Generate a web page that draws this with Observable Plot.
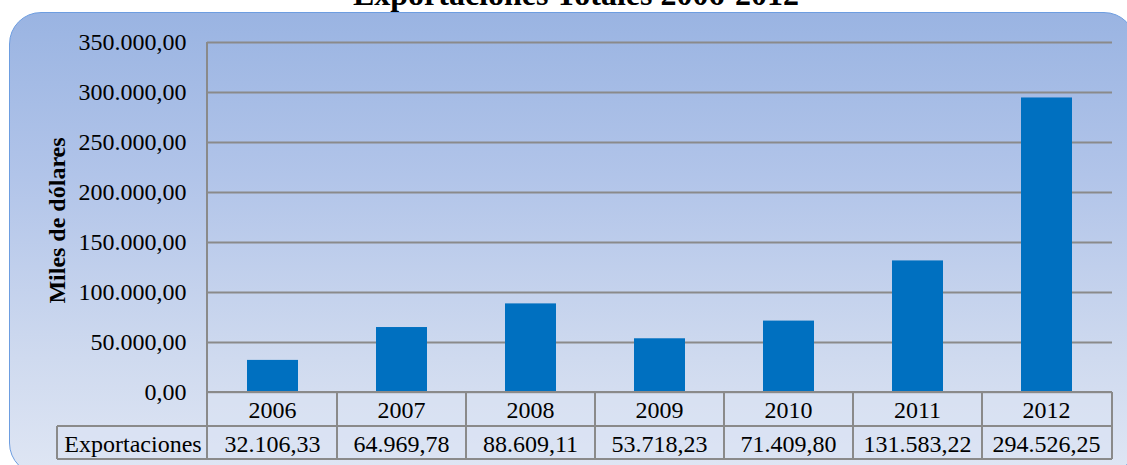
<!DOCTYPE html>
<html>
<head>
<meta charset="utf-8">
<script src="https://cdn.jsdelivr.net/npm/d3@7"></script>
<script src="https://cdn.jsdelivr.net/npm/@observablehq/plot@0.6"></script>
<style>
  html, body { margin: 0; padding: 0; background: #fff; }
  #wrap { position: relative; width: 1127px; height: 465px; overflow: hidden; background: #fff; font-family: "Liberation Serif", "Times New Roman", serif; }
  #bg { position: absolute; left: 9px; top: 12px; width: 1127px; height: 463px; border-radius: 32px;
        border: 1.5px solid #6d9de0; box-sizing: border-box;
        background: linear-gradient(to bottom, #9ab4e2 0%, #b1c4e9 35%, #cfdaef 75%, #dfe6f4 100%); }
  #title { position: absolute; left: 0; width: 1152px; top: -22px; line-height: 32px; text-align: center; font-weight: bold; font-size: 32px; color: #000; white-space: nowrap; }
  #chart { position: absolute; left: 0; top: 0; }
</style>
</head>
<body>
<div id="wrap">
  <div id="bg"></div>
  <div id="title">Exportaciones Totales 2006-2012</div>
  <div id="chart"></div>
</div>
<script>
const years = ["2006", "2007", "2008", "2009", "2010", "2011", "2012"];
const exportaciones = [32106.33, 64969.78, 88609.11, 53718.23, 71409.80, 131583.22, 294526.25];
const yTicks = [0, 50000, 100000, 150000, 200000, 250000, 300000, 350000];
const seriesName = "Exportaciones";
const yLabel = "Miles de dólares";

const data = years.map((y, i) => ({year: y, value: exportaciones[i]}));
const fmt = v => v.toLocaleString("de-DE", {minimumFractionDigits: 2, maximumFractionDigits: 2});

const fs = 24;
const plot = Plot.plot({
  width: 1127,
  height: 465,
  marginLeft: 207,
  marginRight: 15,
  marginTop: 42,
  marginBottom: 73,
  style: {background: "transparent", fontFamily: "'Liberation Serif', 'Times New Roman', serif", fontSize: fs + "px", color: "#000", overflow: "visible"},
  x: {domain: years, paddingInner: 0.605, paddingOuter: 0.3025, align: 0.5, axis: null},
  y: {domain: [0, 350000], axis: null},
  marks: [
    Plot.ruleY(yTicks, {stroke: "#8a8a8a", strokeWidth: 2}),
    Plot.barY(data, {x: "year", y: "value", fill: "#0070c0"}),
    Plot.axisY(yTicks, {tickSize: 0, tickPadding: 21, tickFormat: fmt, fontSize: fs, fill: "#000", label: null}),
    Plot.text([yLabel], {frameAnchor: "left", textAnchor: "middle", lineAnchor: "middle", dx: -150, dy: 3, rotate: -90, fontWeight: "bold", fontSize: 24, fill: "#000"})
  ]
});
document.getElementById("chart").appendChild(plot);

// Data table below the plot, laid out with the plot's x scale
const xs = plot.scale("x");
const svg = d3.select(plot);
const g = svg.append("g");
const step = xs.step;
const bandStart = y => xs.apply(y) + xs.bandwidth / 2 - step / 2;
const x0 = 207, xEnd = 1112;
const yZero = 392, yRow = 426, yBot = 459;
const labelLeft = 57;
const lineColor = "#8a8a8a";

g.append("rect").attr("x", x0).attr("y", yZero).attr("width", xEnd - x0).attr("height", yRow - yZero).attr("fill", "#dbe3f3").attr("opacity", 0.6);
g.append("rect").attr("x", labelLeft).attr("y", yRow).attr("width", xEnd - labelLeft).attr("height", yBot - yRow).attr("fill", "#dbe3f3").attr("opacity", 0.6);

const hl = (x1, x2, y) => g.append("line").attr("x1", x1).attr("x2", x2).attr("y1", y).attr("y2", y).attr("stroke", lineColor).attr("stroke-width", 2);
const vl = (x, y1, y2) => g.append("line").attr("x1", x).attr("x2", x).attr("y1", y1).attr("y2", y2).attr("stroke", lineColor).attr("stroke-width", 2);

hl(x0, xEnd, yZero);
hl(labelLeft, xEnd, yRow);
hl(labelLeft, xEnd, yBot);
vl(x0, 42, yBot);
vl(labelLeft, yRow, yBot);
years.forEach((y, i) => { if (i > 0) vl(bandStart(y), yZero, yBot); });
vl(xEnd, yZero, yBot);

years.forEach((y, i) => {
  const cx = xs.apply(y) + xs.bandwidth / 2;
  g.append("text").attr("x", cx).attr("y", (yZero + yRow) / 2 + 1).attr("text-anchor", "middle").attr("dominant-baseline", "central").attr("font-size", fs).text(y);
  g.append("text").attr("x", cx).attr("y", (yRow + yBot) / 2 + 1).attr("text-anchor", "middle").attr("dominant-baseline", "central").attr("font-size", fs).text(fmt(exportaciones[i]));
});
g.append("text").attr("x", (labelLeft + x0) / 2 + 1).attr("y", (yRow + yBot) / 2 + 1).attr("text-anchor", "middle").attr("dominant-baseline", "central").attr("font-size", fs).text(seriesName);
</script>
</body>
</html>
